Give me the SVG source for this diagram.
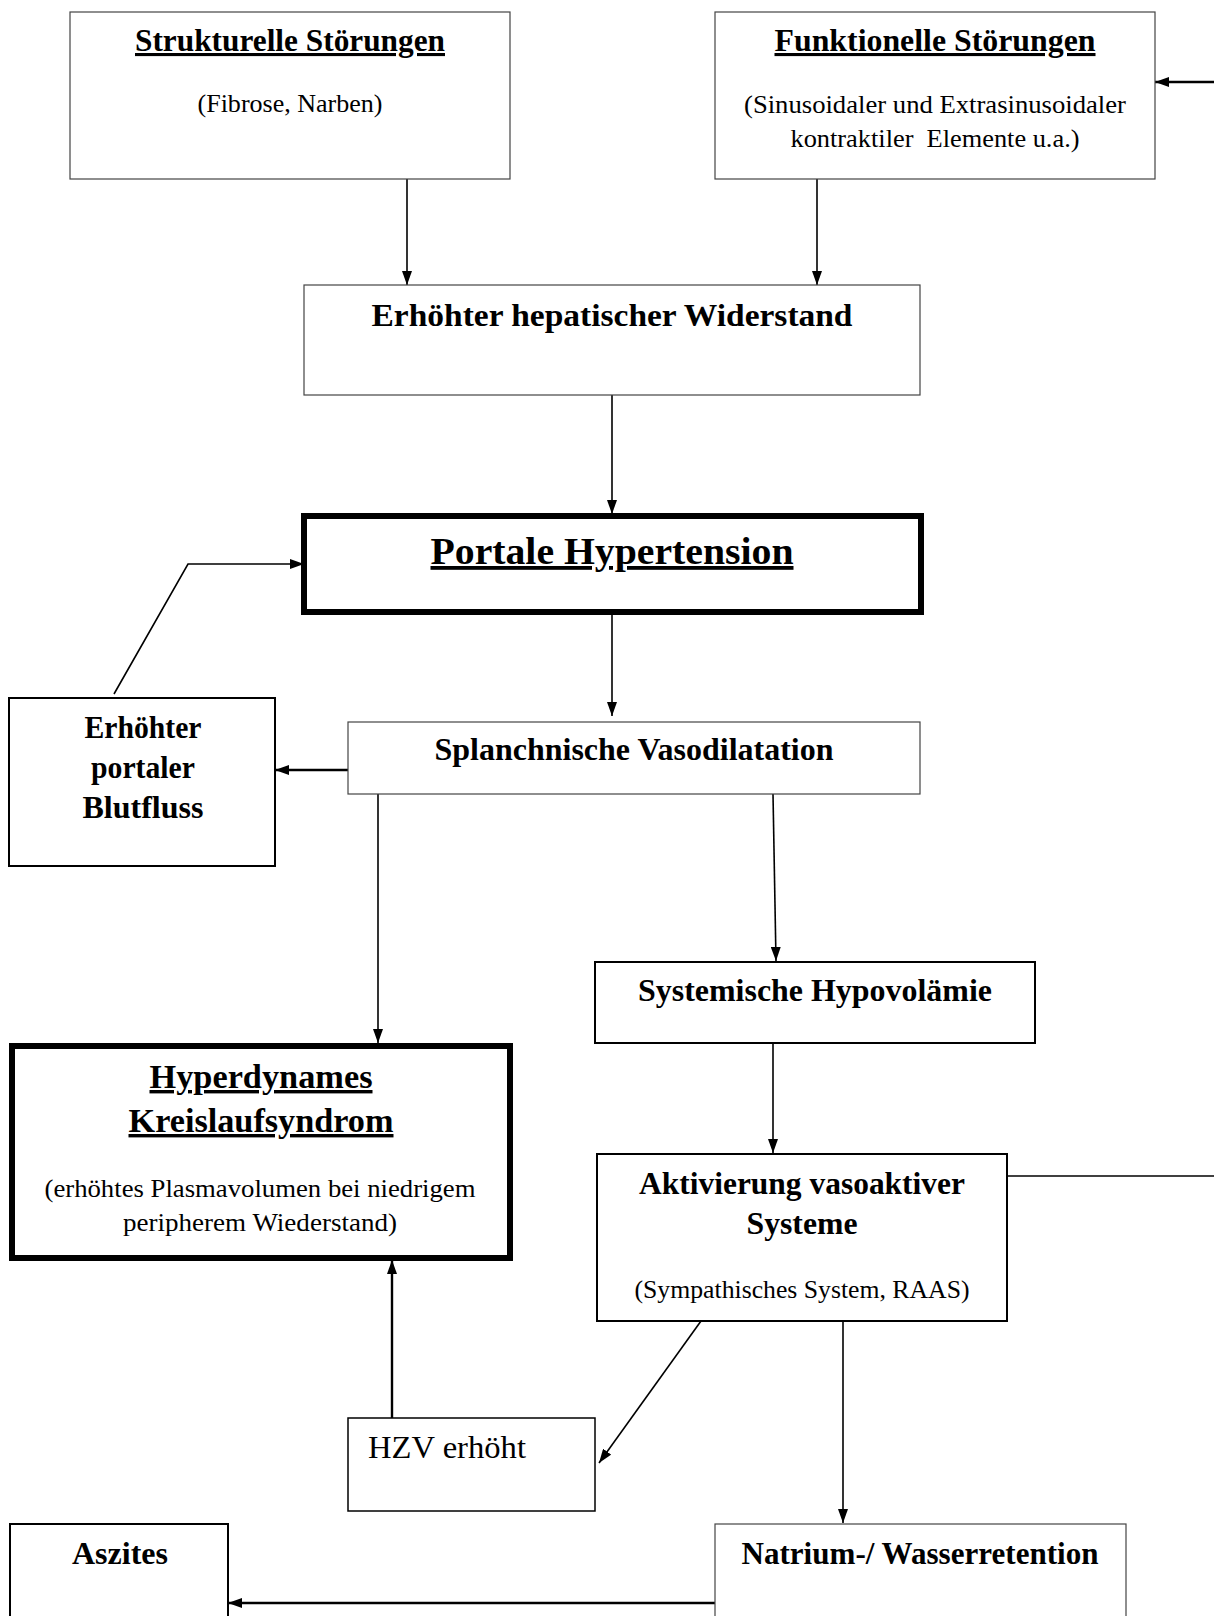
<svg xmlns="http://www.w3.org/2000/svg" width="1214" height="1616" viewBox="0 0 1214 1616">
  <defs>
    <style>
      .box { fill: #ffffff; stroke: #444444; stroke-width: 1.2; }
      .box2 { fill: #ffffff; stroke: #000000; stroke-width: 2; }
      .thick { fill: #ffffff; stroke: #000000; stroke-width: 6; }
      .t { font-family: "Liberation Serif", "DejaVu Serif", serif; fill: #000000; text-anchor: middle; }
      .b { font-weight: bold; font-size: 31px; }
      .r { font-size: 26px; }
      .big { font-weight: bold; font-size: 38px; }
      .mid { font-weight: bold; font-size: 34px; }
      .u { text-decoration: underline; }
      .conn { fill: none; stroke: #000000; stroke-width: 1.6; }
      .conn2 { fill: none; stroke: #000000; stroke-width: 2.4; }
    </style>
    <marker id="arrow" viewBox="0 0 14 10" refX="14" refY="5" markerWidth="14" markerHeight="10" markerUnits="userSpaceOnUse" orient="auto">
      <path d="M0,0 L14,5 L0,10 z" fill="#000000"/>
    </marker>
  </defs>

  <rect width="1214" height="1616" fill="#ffffff"/>

  <!-- connectors -->
  <g id="connectors">
    <path class="conn" d="M407,179 V285" marker-end="url(#arrow)"/>
    <path class="conn" d="M817,179 V285" marker-end="url(#arrow)"/>
    <path class="conn2" d="M1214,82 H1155" marker-end="url(#arrow)"/>
    <path class="conn" d="M612,395 V514" marker-end="url(#arrow)"/>
    <path class="conn" d="M612,612 V716" marker-end="url(#arrow)"/>
    <path class="conn2" d="M348,770 H275" marker-end="url(#arrow)"/>
    <path class="conn" d="M114,694 L188,564 H304" marker-end="url(#arrow)"/>
    <path class="conn" d="M378,794 V1043" marker-end="url(#arrow)"/>
    <path class="conn" d="M773,794 L776,961" marker-end="url(#arrow)"/>
    <path class="conn" d="M773,1043 V1153" marker-end="url(#arrow)"/>
    <path class="conn" d="M1007,1176 H1214"/>
    <path class="conn2" d="M392,1418 V1260" marker-end="url(#arrow)"/>
    <path class="conn" d="M701,1321 L599,1463" marker-end="url(#arrow)"/>
    <path class="conn" d="M843,1321 V1523" marker-end="url(#arrow)"/>
    <path class="conn2" d="M715,1603 H228" marker-end="url(#arrow)"/>
  </g>

  <g id="strukturelle">
    <rect class="box" x="70" y="12" width="440" height="167"/>
    <text class="t b u" x="290" y="51" textLength="310" lengthAdjust="spacingAndGlyphs">Strukturelle Störungen</text>
    <text class="t r" x="290" y="112" textLength="185" lengthAdjust="spacingAndGlyphs">(Fibrose, Narben)</text>
  </g>

  <g id="funktionelle">
    <rect class="box" x="715" y="12" width="440" height="167"/>
    <text class="t b u" x="935" y="51" textLength="321" lengthAdjust="spacingAndGlyphs">Funktionelle Störungen</text>
    <text class="t r" x="935" y="113" textLength="382" lengthAdjust="spacingAndGlyphs">(Sinusoidaler und Extrasinusoidaler</text>
    <text class="t r" x="935" y="147" textLength="289" lengthAdjust="spacingAndGlyphs" xml:space="preserve">kontraktiler  Elemente u.a.)</text>
  </g>

  <g id="widerstand">
    <rect class="box" x="304" y="285" width="616" height="110"/>
    <text class="t b" x="612" y="326" textLength="481" lengthAdjust="spacingAndGlyphs">Erhöhter hepatischer Widerstand</text>
  </g>

  <g id="portale-hypertension">
    <rect class="thick" x="304" y="516" width="617" height="96"/>
    <text class="t big u" x="612" y="564" textLength="363" lengthAdjust="spacingAndGlyphs">Portale Hypertension</text>
  </g>

  <g id="splanchnische">
    <rect class="box" x="348" y="722" width="572" height="72"/>
    <text class="t b" x="634" y="760" textLength="399" lengthAdjust="spacingAndGlyphs">Splanchnische Vasodilatation</text>
  </g>

  <g id="blutfluss">
    <rect class="box2" x="9" y="698" width="266" height="168"/>
    <text class="t b" x="143" y="738" textLength="117" lengthAdjust="spacingAndGlyphs">Erhöhter</text>
    <text class="t b" x="143" y="778" textLength="104" lengthAdjust="spacingAndGlyphs">portaler</text>
    <text class="t b" x="143" y="818" textLength="121" lengthAdjust="spacingAndGlyphs">Blutfluss</text>
  </g>

  <g id="hypovolaemie">
    <rect class="box2" x="595" y="962" width="440" height="81"/>
    <text class="t b" x="815" y="1001" textLength="354" lengthAdjust="spacingAndGlyphs">Systemische Hypovolämie</text>
  </g>

  <g id="hyperdynames">
    <rect class="thick" x="12" y="1046" width="498" height="212"/>
    <text class="t mid u" x="261" y="1088" textLength="223" lengthAdjust="spacingAndGlyphs">Hyperdynames</text>
    <text class="t mid u" x="261" y="1132" textLength="265" lengthAdjust="spacingAndGlyphs">Kreislaufsyndrom</text>
    <text class="t r" x="260" y="1197" textLength="431" lengthAdjust="spacingAndGlyphs">(erhöhtes Plasmavolumen bei niedrigem</text>
    <text class="t r" x="260" y="1231" textLength="274" lengthAdjust="spacingAndGlyphs">peripherem Wiederstand)</text>
  </g>

  <g id="aktivierung">
    <rect class="box2" x="597" y="1154" width="410" height="167"/>
    <text class="t b" x="802" y="1194" textLength="326" lengthAdjust="spacingAndGlyphs">Aktivierung vasoaktiver</text>
    <text class="t b" x="802" y="1234" textLength="111" lengthAdjust="spacingAndGlyphs">Systeme</text>
    <text class="t r" x="802" y="1298" textLength="335" lengthAdjust="spacingAndGlyphs">(Sympathisches System, RAAS)</text>
  </g>

  <g id="hzv">
    <rect class="box2" x="348" y="1418" width="247" height="93" style="stroke-width:1.5"/>
    <text class="t" x="368" y="1458" style="text-anchor:start;font-size:32px" textLength="158" lengthAdjust="spacingAndGlyphs">HZV erhöht</text>
  </g>

  <g id="natrium">
    <rect class="box" x="715" y="1524" width="411" height="110"/>
    <text class="t b" x="920" y="1564" textLength="357" lengthAdjust="spacingAndGlyphs">Natrium-/ Wasserretention</text>
  </g>

  <g id="aszites">
    <rect class="box2" x="10" y="1524" width="218" height="110"/>
    <text class="t b" x="120" y="1564" textLength="96" lengthAdjust="spacingAndGlyphs">Aszites</text>
  </g>
</svg>
